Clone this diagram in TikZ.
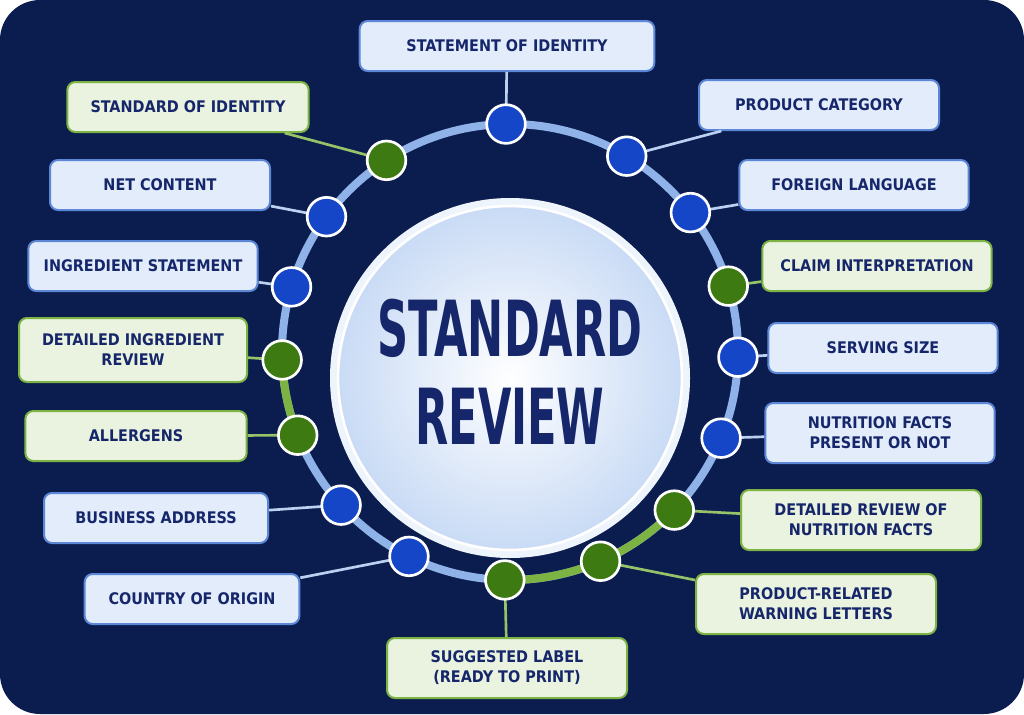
\documentclass[tikz,border=0pt]{standalone}
\usepackage{fontspec}
\setmainfont{DejaVu Sans Condensed}
\usetikzlibrary{calc}
\definecolor{navy}{HTML}{0B1D4F}
\definecolor{ink}{HTML}{16266A}
\definecolor{ringblue}{HTML}{8FB3E8}
\definecolor{dotblue}{HTML}{1546C8}
\definecolor{dotgreen}{HTML}{3D7A12}
\definecolor{boxblue}{HTML}{E2ECFB}
\definecolor{lineblue}{HTML}{5C86D6}
\definecolor{boxgreen}{HTML}{EAF3DF}
\definecolor{linegreen}{HTML}{7CB342}
\tikzset{
  bluebox/.style={draw=lineblue, line width=1.5pt, fill=boxblue, rounded corners=6pt, text=ink,
    font=\bfseries\fontsize{12}{15}\selectfont, align=center, minimum height=37.5pt, inner sep=2pt},
  greenbox/.style={bluebox, draw=linegreen, fill=boxgreen},
  bluedot/.style={circle, draw=white, line width=2pt, fill=dotblue, minimum size=29pt, inner sep=0pt},
  greendot/.style={bluedot, fill=dotgreen},
  bluelink/.style={draw=ringblue!60!white, line width=2pt},
  greenlink/.style={draw=linegreen!80!white, line width=2pt}
}
\begin{document}
\begin{tikzpicture}[x=0.75pt, y=-0.75pt]
  \useasboundingbox (0,0) rectangle (1024,714);
  \fill[navy, rounded corners=30pt] (0,0) rectangle (1024,714);
  \coordinate (c) at (510,352);

  % ring
  \draw[ringblue, line width=6pt] (c) circle[radius=228];
  \draw[linegreen, line width=6pt] (c) ++(178:228) arc[start angle=178, end angle=158.6, radius=228];
  \draw[linegreen, line width=6pt] (c) ++(91.3:228) arc[start angle=91.3, end angle=43.9, radius=228];

  % centre
  \fill[white!85!ringblue] (510,378) circle[radius=180];
  \shade[inner color=white, outer color=boxblue!70!ringblue, draw=white, line width=2pt]
    (510,378) circle[radius=172];
  \node[text=ink, font=\bfseries\fontsize{58}{66}\selectfont, align=center] (title) at (510,372)
    {\scalebox{0.62}[1]{STANDARD}\\\scalebox{0.62}[1]{REVIEW}};

  % boxes
  \node[bluebox, minimum width=221pt] (soi) at (507,46) {STATEMENT OF IDENTITY};
  \node[greenbox, minimum width=181pt] (std) at (188,107) {STANDARD OF IDENTITY};
  \node[bluebox, minimum width=165pt] (net) at (160,185) {NET CONTENT};
  \node[bluebox, minimum width=172pt] (ing) at (143,266) {INGREDIENT STATEMENT};
  \node[greenbox, minimum width=171pt, minimum height=48pt] (dir) at (133,350) {DETAILED INGREDIENT\\REVIEW};
  \node[greenbox, minimum width=166pt] (all) at (136,436) {ALLERGENS};
  \node[bluebox, minimum width=168pt] (bus) at (156,518) {BUSINESS ADDRESS};
  \node[bluebox, minimum width=161pt] (coo) at (192,599) {COUNTRY OF ORIGIN};
  \node[greenbox, minimum width=180pt, minimum height=45pt] (sug) at (507,668) {SUGGESTED LABEL\\(READY TO PRINT)};
  \node[greenbox, minimum width=180pt, minimum height=45pt] (war) at (816,604) {PRODUCT-RELATED\\WARNING LETTERS};
  \node[greenbox, minimum width=180pt, minimum height=45pt] (drn) at (861,520) {DETAILED REVIEW OF\\NUTRITION FACTS};
  \node[bluebox, minimum width=172pt, minimum height=45pt] (nfp) at (880,433) {NUTRITION FACTS\\PRESENT OR NOT};
  \node[bluebox, minimum width=172pt] (ser) at (883,348) {SERVING SIZE};
  \node[greenbox, minimum width=172pt] (cla) at (877,266) {CLAIM INTERPRETATION};
  \node[bluebox, minimum width=172pt] (for) at (854,185) {FOREIGN LANGUAGE};
  \node[bluebox, minimum width=180pt] (cat) at (819,105) {PRODUCT CATEGORY};

  % dots and links
  \foreach \ang/\kind/\nm in {-91/blue/soi, -122.8/green/std, -143.6/blue/net, -163.4/blue/ing,
      178/green/dir, 158.6/green/all, 137.8/blue/bus, 116.3/blue/coo, 91.3/green/sug,
      66.6/green/war, 43.9/green/drn, 22.2/blue/nfp, 1.3/blue/ser, -16.8/green/cla,
      -37.7/blue/for, -59.2/blue/cat}{
    \coordinate (d\nm) at ($(c)+(\ang:228)$);
    \draw[\kind link] (d\nm) -- (\nm);
    \node[\kind dot] at (d\nm) {};
  }
\end{tikzpicture}
\end{document}
